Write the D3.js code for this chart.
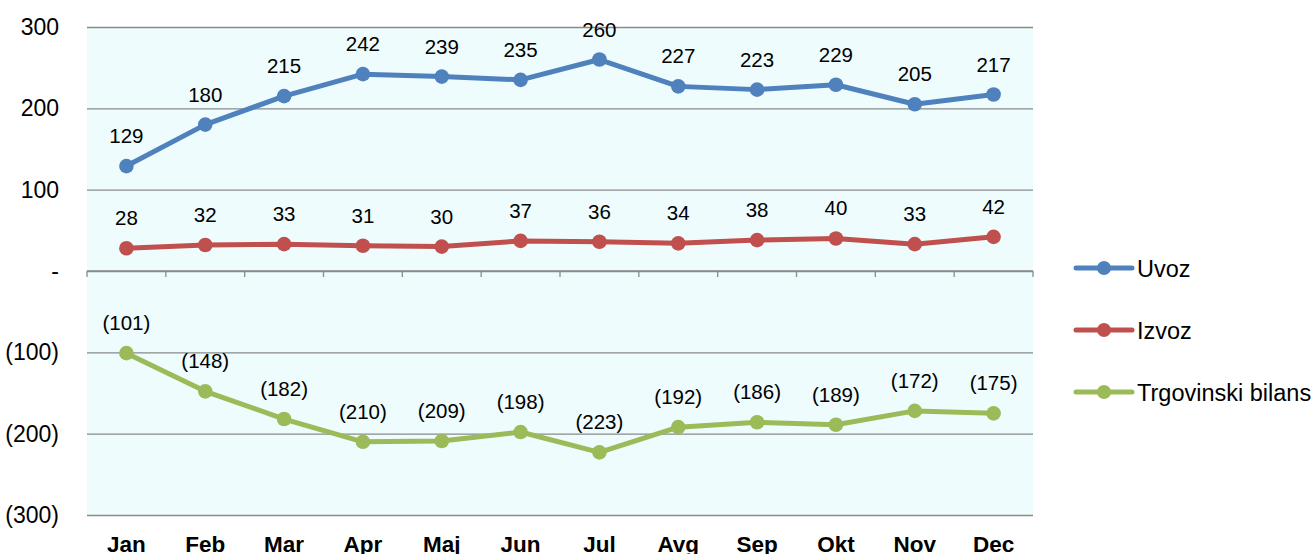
<!DOCTYPE html>
<html><head><meta charset="utf-8">
<script src="https://cdn.jsdelivr.net/npm/d3@7"></script>
<style>body{margin:0;background:#fff}svg{display:block;font-family:"Liberation Sans",Arial,sans-serif}</style>
</head><body><svg id="c" width="1316" height="554"></svg>
<script>
const months = ["Jan","Feb","Mar","Apr","Maj","Jun","Jul","Avg","Sep","Okt","Nov","Dec"];
const uvoz = [129,180,215,242,239,235,260,227,223,229,205,217];
const izvoz = [28,32,33,31,30,37,36,34,38,40,33,42];
const bilans = [-101,-148,-182,-210,-209,-198,-223,-192,-186,-189,-172,-175];
const yTicks = [300,200,100,0,-100,-200,-300];
const seriesNames = ["Uvoz","Izvoz","Trgovinski bilans"];
const colors = ["#4F81BD","#C0504D","#9BBB59"];

(function(){
const svg = d3.select("#c");
const pL = 87, pR = 1033, pT = 27, pB = 515;
const x = d3.scaleBand().domain(months).range([pL, pR]);
const y = d3.scaleLinear().domain([-300, 300]).range([pB, pT]);
const fmt = v => v === 0 ? "-" : (v < 0 ? "(" + d3.format(",")(-v) + ")" : d3.format(",")(v));

svg.append("rect").attr("x", pL).attr("y", pT).attr("width", pR - pL).attr("height", pB - pT).attr("fill", "#EEFCFD");

const yAxis = d3.axisLeft(y).tickValues(yTicks).tickSize(-(pR - pL)).tickFormat(fmt).tickPadding(28);
const gy = svg.append("g").attr("transform", `translate(${pL},0)`).call(yAxis);
gy.select(".domain").remove();
gy.selectAll(".tick line").attr("stroke", "#8A8A8A").attr("stroke-width", 1.3);
gy.selectAll(".tick text").attr("font-size", 23).attr("fill", "#000").attr("font-family", "Liberation Sans, Arial, sans-serif");

const gx = svg.append("g").attr("transform", `translate(0,${y(0)})`);
gx.append("line").attr("x1", pL).attr("x2", pR).attr("stroke", "#8A8A8A").attr("stroke-width", 1.3);
const bounds = months.map(m => x(m)).concat([pR]);
gx.selectAll(".tk").data(bounds).join("line").attr("class", "tk")
  .attr("x1", d => d).attr("x2", d => d).attr("y1", 0).attr("y2", 6)
  .attr("stroke", "#8A8A8A").attr("stroke-width", 1.3);

const xAxis = d3.axisBottom(x).tickSize(0).tickPadding(0);
const gb = svg.append("g").attr("transform", `translate(0,${pB})`).call(xAxis);
gb.select(".domain").remove();
gb.selectAll(".tick text").attr("font-size", 22.5).attr("font-weight", "bold").attr("fill", "#000")
  .attr("font-family", "Liberation Sans, Arial, sans-serif").attr("dy", null).attr("y", 37);

const allSeries = [uvoz, izvoz, bilans];
const line = d3.line().x((d, i) => x(months[i]) + x.bandwidth() / 2).y(d => y(d));
allSeries.forEach((s, k) => {
  const g = svg.append("g");
  g.append("path").datum(s).attr("d", line).attr("fill", "none").attr("stroke", colors[k]).attr("stroke-width", 5).attr("stroke-linejoin", "round");
  g.selectAll("circle").data(s).join("circle")
    .attr("cx", (d, i) => x(months[i]) + x.bandwidth() / 2).attr("cy", d => y(d)).attr("r", 7.3).attr("fill", colors[k]);
  g.selectAll("text").data(s).join("text")
    .attr("x", (d, i) => x(months[i]) + x.bandwidth() / 2).attr("y", d => y(d) - 23)
    .attr("text-anchor", "middle").attr("font-size", 20.5).attr("fill", "#000").text(fmt);
});

const lg = svg.append("g");
const legY = [268, 330, 392];
seriesNames.forEach((n, k) => {
  lg.append("line").attr("x1", 1076).attr("x2", 1132).attr("y1", legY[k]).attr("y2", legY[k]).attr("stroke", colors[k]).attr("stroke-width", 5).attr("stroke-linecap", "round");
  lg.append("circle").attr("cx", 1104).attr("cy", legY[k]).attr("r", 7).attr("fill", colors[k]);
  lg.append("text").attr("x", 1137).attr("y", legY[k] + 8.5).attr("font-size", 23.5).attr("fill", "#000").text(n);
});
})();
</script></body></html>
